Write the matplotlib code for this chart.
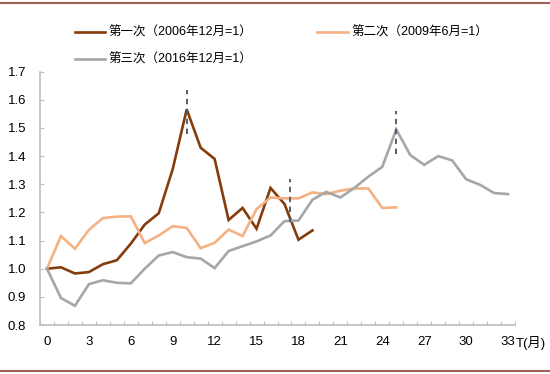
import matplotlib
matplotlib.use("Agg")
import matplotlib.pyplot as plt
from matplotlib.lines import Line2D

plt.rcParams['font.family'] = ['Liberation Sans', 'Noto Sans CJK SC', 'DejaVu Sans']

# index values, month 0 = 1
first = [1.00, 1.005, 0.983, 0.988, 1.016, 1.03, 1.089, 1.157, 1.197, 1.354,
         1.566, 1.43, 1.39, 1.173, 1.216, 1.142, 1.287, 1.23, 1.103, 1.136]
second = [1.00, 1.116, 1.071, 1.138, 1.18, 1.185, 1.186, 1.091, 1.118, 1.151,
          1.145, 1.073, 1.092, 1.139, 1.116, 1.212, 1.253, 1.25, 1.25, 1.271,
          1.265, 1.277, 1.285, 1.285, 1.216, 1.218]
third = [1.00, 0.896, 0.868, 0.945, 0.959, 0.95, 0.948, 1.0, 1.047, 1.059,
         1.041, 1.036, 1.002, 1.063, 1.08, 1.097, 1.118, 1.169, 1.171, 1.245,
         1.273, 1.253, 1.287, 1.327, 1.362, 1.495, 1.404, 1.369, 1.40, 1.385,
         1.318, 1.298, 1.269, 1.265]
labels = ["第一次（2006年12月=1）", "第二次（2009年6月=1）", "第三次（2016年12月=1）"]
colors = ["#843C0C", "#F4B183", "#A6A6A6"]

# dashed markers at the peaks: (month, low, high)
peaks = [(10, 1.48, 1.636), (17.4, 1.165, 1.318), (25, 1.407, 1.56)]

fig = plt.figure(figsize=(5.5, 3.74), dpi=100)
ax = fig.add_axes([40/550, 1 - 325/374, 475/550, (325 - 71.7)/374])

for data, c in zip([first, second, third], colors):
    ax.plot(range(len(data)), data, color=c, lw=1.9, solid_joinstyle='miter')

for x, lo, hi in peaks:
    ax.plot([x, x], [lo, hi], color="#44546A", lw=1.3, ls=(0, (3, 2.5)))

ax.set_xlim(-0.5, 33.5)
ax.set_ylim(0.8, 1.7)
ax.set_yticks([0.8 + 0.1 * i for i in range(10)])
ax.set_yticklabels([f"{0.8 + 0.1 * i:.1f}" for i in range(10)])
ax.set_xticks([i + 0.5 for i in range(-1, 34)])
ax.set_xticklabels([])
ax.set_xticks(range(0, 34, 3), minor=True)
ax.set_xticklabels([str(i) for i in range(0, 34, 3)], minor=True)
ax.tick_params(axis='x', which='major', direction='in', length=3, color='#BFBFBF')
ax.tick_params(axis='x', which='minor', length=0, pad=8, labelsize=9.5)
ax.tick_params(axis='y', direction='in', length=3, color='#BFBFBF', pad=10, labelsize=9.5)
for s in ['top', 'right']:
    ax.spines[s].set_visible(False)
for s in ['left', 'bottom']:
    ax.spines[s].set_color('#BFBFBF')
    ax.spines[s].set_linewidth(1.2)

fig.text(516/550, 1 - 343/374, "T(月)", ha='left', va='center', fontsize=9.5)

# legend drawn by hand to match placement
leg = [(75, 105, 32.3), (317, 348, 32.3), (75, 105, 59.3)]
for (x0, x1, y), c, lab in zip(leg, colors, labels):
    fig.add_artist(Line2D([x0/550, x1/550], [1 - y/374, 1 - y/374], color=c, lw=1.9))
    fig.text((x1 + 3)/550, 1 - y/374, lab, ha='left', va='center', fontsize=9)

# top and bottom rule
for y in [2.7, 371]:
    fig.add_artist(Line2D([0, 1], [1 - y/374, 1 - y/374], color='#A0605A', lw=1.5))

fig.savefig("out.png", dpi=100)
